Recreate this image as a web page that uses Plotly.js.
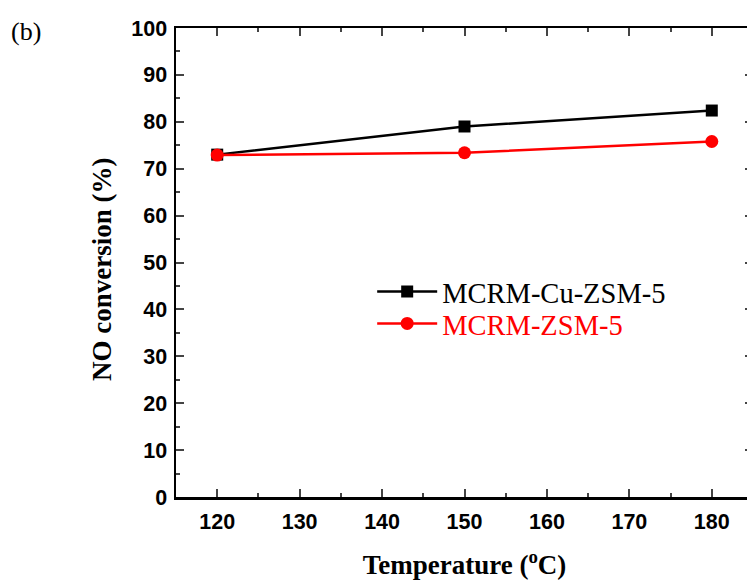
<!DOCTYPE html>
<html><head><meta charset="utf-8">
<script src="https://cdn.plot.ly/plotly-3.0.1.min.js"></script>
<style>html,body{margin:0;padding:0;overflow:hidden;background:#fff;width:747px;height:583px}</style>
</head><body>
<div id="chart" style="width:760px;height:583px"></div>
<script>
const temperatures = [120, 150, 180];
const cuZsm5 = [73.0, 79.0, 82.4];
const zsm5 = [72.9, 73.4, 75.8];
const seriesNames = ['MCRM-Cu-ZSM-5', 'MCRM-ZSM-5'];
const xTicks = [120, 130, 140, 150, 160, 170, 180];
const yTicks = [0, 10, 20, 30, 40, 50, 60, 70, 80, 90, 100];

const traces = [
  {x: temperatures, y: cuZsm5, name: seriesNames[0], type: 'scatter', mode: 'lines+markers', legend: 'legend',
   line: {color: '#000', width: 2.5}, marker: {symbol: 'square', size: 12, color: '#000'}},
  {x: temperatures, y: zsm5, name: '<span style="color:#ff0000">' + seriesNames[1] + '</span>', type: 'scatter', mode: 'lines+markers', legend: 'legend2',
   line: {color: '#ff0000', width: 2.5}, marker: {symbol: 'circle', size: 13, color: '#ff0000'}}
];

const tickFont = {family: 'Liberation Sans, Arial, sans-serif', size: 21.5, color: '#000', weight: 'bold'};
const serif = 'Liberation Serif, Times New Roman, serif';
const legendBase = {x: 0.34, xanchor: 'left', yanchor: 'middle', bgcolor: 'rgba(0,0,0,0)',
  font: {family: serif, size: 28.5, color: '#000'}, itemwidth: 60};
const layout = {
  width: 760, height: 583,
  margin: {l: 176, r: 7, t: 28, b: 86},
  paper_bgcolor: '#fff', plot_bgcolor: '#fff',
  showlegend: true,
  legend: Object.assign({}, legendBase, {y: 0.437}),
  legend2: Object.assign({}, legendBase, {y: 0.369}),
  xaxis: {range: [115, 185], tickvals: xTicks, ticktext: xTicks.map(String), ticks: 'inside', ticklen: 8, tickwidth: 2,
    showline: true, linewidth: 2.5, linecolor: '#000', mirror: 'ticks', showgrid: false, zeroline: false,
    tickfont: tickFont, ticklabelstandoff: 4,
    minor: {dtick: 5, ticks: 'inside', ticklen: 4, tickwidth: 2, tick0: 115, showgrid: false},
    title: {text: 'Temperature (<sup>o</sup>C)', standoff: 22,
      font: {family: serif, size: 27, color: '#000', weight: 'bold'}}},
  yaxis: {range: [0, 100], tickvals: yTicks, ticktext: yTicks.map(String), ticks: 'inside', ticklen: 8, tickwidth: 2,
    showline: true, linewidth: 2.5, linecolor: '#000', mirror: 'ticks', showgrid: false, zeroline: false,
    tickfont: tickFont, ticklabelstandoff: 2,
    minor: {dtick: 5, ticks: 'inside', ticklen: 4, tickwidth: 2, showgrid: false}},
  annotations: [
    {text: '(b)', xref: 'paper', yref: 'paper', x: -0.22, y: 0.993, xanchor: 'left', yanchor: 'middle',
     showarrow: false, xshift: -40, font: {family: serif, size: 26, color: '#000'}},
    {text: 'NO conversion (%)', xref: 'paper', yref: 'paper', x: 0, y: 0.484, xanchor: 'center', yanchor: 'middle',
     xshift: -74, textangle: -90, showarrow: false,
     font: {family: serif, size: 27, color: '#000', weight: 'bold'}}]
};
Plotly.newPlot('chart', traces, layout, {displayModeBar: false, staticPlot: true});
</script>
</body></html>
